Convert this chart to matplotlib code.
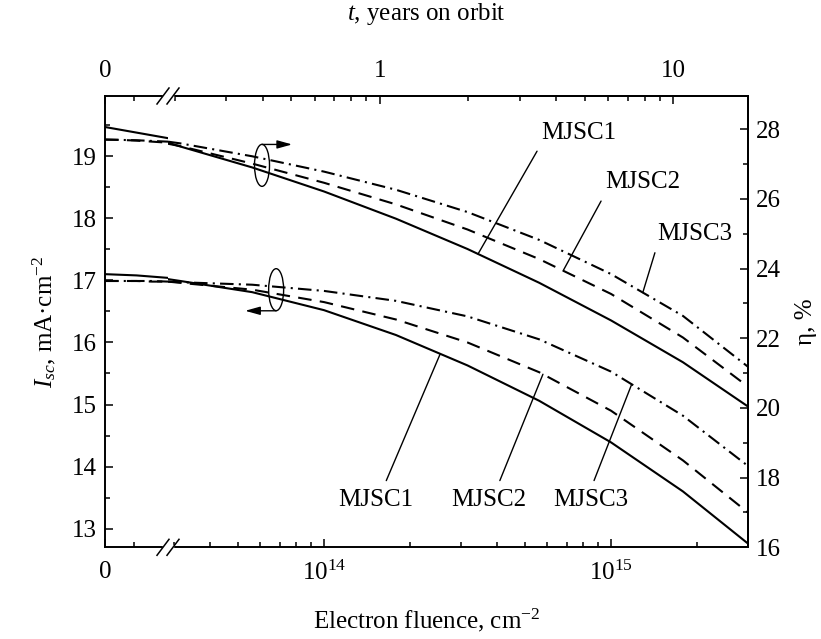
import numpy as np
import matplotlib
matplotlib.use("Agg")
import matplotlib.pyplot as plt
from matplotlib import ticker, transforms
from matplotlib.patches import Ellipse, Rectangle
from matplotlib.lines import Line2D

plt.rcParams["font.family"] = "Liberation Serif"
plt.rcParams["mathtext.fontset"] = "custom"
plt.rcParams["mathtext.rm"] = "Liberation Serif"
plt.rcParams["mathtext.it"] = "Liberation Serif:italic"
plt.rcParams["font.size"] = 18

# electron fluence, cm^-2: linear piece left of the axis break, log piece right of it
fluence_lin = [0.0, 0.55e13, 1.1e13, 1.65e13, 2.2e13]
fluence_log = [2.86e13, 3.16e13, 5.62e13, 1.0e14, 1.78e14, 3.16e14,
               5.62e14, 1.0e15, 1.78e15, 3.0e15]

# efficiency eta, % (right axis) for MJSC1..3
eta1_lin = [28.06, 27.98, 27.90, 27.82, 27.74]
eta2_lin = [27.70, 27.69, 27.67, 27.64, 27.61]
eta3_lin = [27.70, 27.69, 27.68, 27.66, 27.64]
eta1_log = [27.61, 27.50, 26.90, 26.21, 25.43, 24.56, 23.59, 22.51, 21.31, 20.04]
eta2_log = [27.58, 27.51, 27.01, 26.46, 25.84, 25.12, 24.27, 23.27, 22.02, 20.61]
eta3_log = [27.64, 27.59, 27.22, 26.78, 26.26, 25.62, 24.82, 23.84, 22.64, 21.18]

# short-circuit current I_sc, mA/cm^2 (left axis) for MJSC1..3
isc1_lin = [17.10, 17.09, 17.08, 17.06, 17.04]
isc2_lin = [16.99, 16.99, 16.99, 16.98, 16.98]
isc3_lin = [16.99, 16.99, 16.99, 16.99, 16.98]
isc1_log = [17.02, 16.99, 16.81, 16.52, 16.12, 15.63, 15.06, 14.39, 13.60, 12.76]
isc2_log = [16.98, 16.96, 16.85, 16.65, 16.37, 16.00, 15.52, 14.90, 14.10, 13.26]
isc3_log = [16.98, 16.97, 16.93, 16.83, 16.67, 16.42, 16.05, 15.53, 14.82, 14.01]

cells = ["MJSC1", "MJSC2", "MJSC3"]
# label text positions (fluence, value) and fluence where the leader meets the curve
eta_label_xy = [(7.73e14, 27.9), (1.29e15, 26.47), (1.96e15, 25.0)]
eta_label_hit = [3.44e14, 6.81e14, 1.29e15]
isc_label_xy = [(1.51e14, 13.47), (3.76e14, 13.47), (8.51e14, 13.47)]
isc_label_hit = [2.54e14, 5.79e14, 1.18e15]

styles = [dict(ls="-"), dict(ls=(0, (6.5, 4))), dict(ls=(0, (6.5, 2.5, 1, 2.5)))]
LW = 1.5

W, H = 821, 639
fig = plt.figure(figsize=(W / 100, H / 100), dpi=100)
x0, x_brk, x1 = 105, 168, 748
y_top, y_bot = 96, 547.3
b = 1 - y_bot / H
h = (y_bot - y_top) / H
axL = fig.add_axes([x0 / W, b, (x_brk - x0) / W, h])
axR = fig.add_axes([x_brk / W, b, (x1 - x_brk) / W, h])
axL2 = axL.twinx()
axR2 = axR.twinx()
axT = axR.twiny()

isc_lim = (12.7, 19.97)
eta_lim = (16.0, 28.95)

for ax in (axL, axR):
    ax.set_ylim(*isc_lim)
for ax in (axL2, axR2):
    ax.set_ylim(*eta_lim)

axL.set_xlim(0, 2.2e13)
axR.set_xscale("log")
axR.set_xlim(2.86e13, 3.0e15)
axT.set_xscale("log")
axT.set_xlim(0.19, 18)

for i in range(3):
    axL.plot(fluence_lin, [isc1_lin, isc2_lin, isc3_lin][i], color="k", lw=LW, **styles[i])
    axL2.plot(fluence_lin, [eta1_lin, eta2_lin, eta3_lin][i], color="k", lw=LW, **styles[i])
    axR.plot(fluence_log, [isc1_log, isc2_log, isc3_log][i], color="k", lw=LW, **styles[i])
    axR2.plot(fluence_log, [eta1_log, eta2_log, eta3_log][i], color="k", lw=LW, **styles[i])

tk = dict(direction="in", width=1.1, color="k")
# left piece
axL.spines["right"].set_visible(False)
axL.yaxis.set_major_locator(ticker.MultipleLocator(1))
axL.yaxis.set_minor_locator(ticker.MultipleLocator(0.5))
axL.set_xticks([0])
axL.set_xticklabels(["0"])
axL.set_xticks([1.0e13], minor=True)
axL.tick_params(axis="both", which="major", length=6, **tk)
axL.tick_params(axis="both", which="minor", length=3.6, **tk)
axL.tick_params(axis="x", which="both", top=True, labeltop=True, pad=10)
axL.tick_params(axis="y", which="both", right=False, pad=6)
axL2.axis("off")
axL.set_ylabel(r"$I_{sc}$, mA·cm$^{-2}$", labelpad=10)

# right piece
axR.spines["left"].set_visible(False)
axR.tick_params(axis="y", which="both", left=False, right=False, labelleft=False)
axR.xaxis.set_major_locator(ticker.LogLocator(base=10))
axR.xaxis.set_minor_locator(ticker.LogLocator(base=10, subs=np.arange(2, 10)))
axR.xaxis.set_major_formatter(ticker.LogFormatterMathtext())
axR.xaxis.set_minor_formatter(ticker.NullFormatter())
axR.tick_params(axis="x", which="major", length=6, pad=10, top=False, **tk)
axR.tick_params(axis="x", which="minor", length=3.6, top=False, **tk)

for s in ("left", "top", "bottom"):
    axR2.spines[s].set_visible(False)
axR2.yaxis.set_major_locator(ticker.MultipleLocator(2))
axR2.yaxis.set_minor_locator(ticker.MultipleLocator(1))
axR2.tick_params(axis="y", which="major", length=6, pad=6, **tk)
axR2.tick_params(axis="y", which="minor", length=3.6, **tk)
axR2.set_ylabel("η, %", labelpad=10)

for s in ("left", "right", "bottom"):
    axT.spines[s].set_visible(False)
axT.xaxis.set_major_locator(ticker.LogLocator(base=10))
axT.xaxis.set_minor_locator(ticker.LogLocator(base=10, subs=np.arange(2, 10)))
axT.xaxis.set_major_formatter(ticker.FuncFormatter(lambda v, p: f"{v:g}"))
axT.xaxis.set_minor_formatter(ticker.NullFormatter())
axT.tick_params(axis="x", which="major", length=6, pad=10, **tk)
axT.tick_params(axis="x", which="minor", length=3.6, **tk)

for ax in (axL, axR, axR2, axT):
    for s in ax.spines.values():
        s.set_linewidth(1.4)

xc = (x0 + x1) / 2 / W
fig.text(xc, 1 - 620 / H, "Electron fluence, cm$^{-2}$", ha="center", va="center")
fig.text(xc, 1 - 14 / H, "$t$, years on orbit", ha="center", va="center")

# axis break marks on top and bottom spines
for yb in (y_bot, y_top):
    fig.add_artist(Rectangle(((x_brk - 5) / W, 1 - (yb + 2) / H), 10 / W, 4 / H,
                             transform=fig.transFigure, color="white", zorder=5))
    for dx in (-5, 5):
        xs = [(x_brk + dx - 6) / W, (x_brk + dx + 6) / W]
        ys = [1 - (yb + 8) / H, 1 - (yb - 8) / H]
        fig.add_artist(Line2D(xs, ys, transform=fig.transFigure, color="k", lw=1.1, zorder=6))

# labels with leader lines
lf = np.log10(fluence_log)
for name, (fx, fy), hit, vals in zip(cells, eta_label_xy, eta_label_hit,
                                     [eta1_log, eta2_log, eta3_log]):
    yv = np.interp(np.log10(hit), lf, vals)
    axR2.annotate(name, xy=(hit, yv), xytext=(fx, fy), ha="center", va="center",
                  arrowprops=dict(arrowstyle="-", lw=1, color="k", relpos=(0, 0),
                                  shrinkA=4, shrinkB=0))
for name, (fx, fy), hit, vals, rx in zip(cells, isc_label_xy, isc_label_hit,
                                         [isc1_log, isc2_log, isc3_log], [0.6, 0.6, 0.5]):
    yv = np.interp(np.log10(hit), lf, vals)
    axR.annotate(name, xy=(hit, yv), xytext=(fx, fy), ha="center", va="center",
                 arrowprops=dict(arrowstyle="-", lw=1, color="k", relpos=(rx, 1),
                                 shrinkA=4, shrinkB=0))

# ellipses marking which bundle belongs to which axis, with arrows
def ring(ax, fx, fy):
    tr = fig.dpi_scale_trans + transforms.ScaledTranslation(fx, fy, ax.transData)
    ax.add_patch(Ellipse((0, 0), 0.15, 0.42, transform=tr, fill=False, lw=1, ec="k",
                         clip_on=False))

arrow = dict(arrowstyle="-|>,head_length=0.9,head_width=0.25", mutation_scale=10,
             lw=1, color="k", shrinkA=0, shrinkB=0)
ring(axR2, 6.08e13, 26.96)
axR2.annotate("", xy=(7.74e13, 27.56), xytext=(6.08e13, 27.56), arrowprops=arrow)
ring(axR, 6.81e13, 16.85)
axR.annotate("", xy=(5.31e13, 16.51), xytext=(6.81e13, 16.51), arrowprops=arrow)

fig.savefig("out.png", dpi=100)
